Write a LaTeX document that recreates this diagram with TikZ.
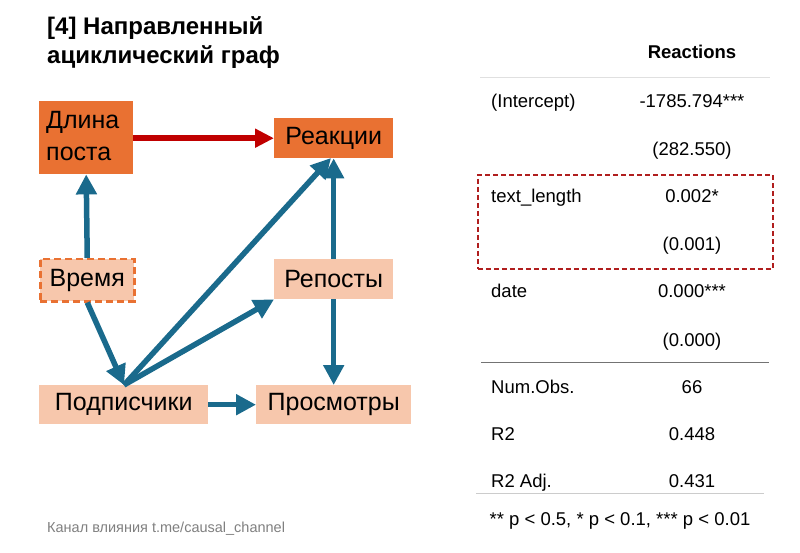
\documentclass[tikz,border=0pt]{standalone}
\usepackage{fontspec}
\setmainfont{Liberation Sans}
\usetikzlibrary{arrows.meta}
\definecolor{dorange}{HTML}{E97132}
\definecolor{lpeach}{HTML}{F7C7AC}
\definecolor{ablue}{HTML}{1A6A8C}
\definecolor{ared}{HTML}{C00000}
\definecolor{dred}{HTML}{B01E1E}
\begin{document}
\begin{tikzpicture}[x=1pt,y=-1pt,
  box/.style={inner sep=0pt,font=\fontsize{25}{30}\selectfont,text=black},
  darkbox/.style={box,fill=dorange},
  lightbox/.style={box,fill=lpeach},
  arr/.style={line width=5.5pt,draw=ablue,-{Triangle[length=20pt,width=20pt]}},
  redarr/.style={line width=5.5pt,draw=ared,-{Triangle[length=19pt,width=18pt]}},
  tab/.style={font=\fontsize{18.5}{22}\selectfont,inner sep=0pt},
  tl/.style={tab,anchor=base west},
  tc/.style={tab,anchor=base},
  ]
\useasboundingbox (0,0) rectangle (800,553);
\fill[white] (0,0) rectangle (800,553);
% title
\node[anchor=base west,inner sep=0pt,font=\bfseries\fontsize{24}{29}\selectfont] (title) at (47,35) {[4] Направленный};
\node[anchor=base west,inner sep=0pt,font=\bfseries\fontsize{24}{29}\selectfont] (title2) at (47,64) {ациклический граф};
% boxes
\node[darkbox,minimum width=94pt,minimum height=73pt,anchor=north west] (len) at (39,101) {};
\node[box,anchor=base west] (lentxt1) at (46,129) {Длина};
\node[box,anchor=base west] (lentxt2) at (46,161) {поста};
\node[darkbox,minimum width=119pt,minimum height=40pt,anchor=north west] (reac) at (274,118) {Реакции};
\node[lightbox,minimum width=94pt,minimum height=42pt,anchor=north west,draw=dorange,line width=2.5pt,dash pattern=on 7pt off 4pt] (time) at (39,258) {Время};
\node[lightbox,minimum width=119pt,minimum height=40pt,anchor=north west] (rep) at (274,259) {Репосты};
\node[lightbox,minimum width=169pt,minimum height=39pt,anchor=north west] (sub) at (39,385) {Подписчики};
\node[lightbox,minimum width=155pt,minimum height=39pt,anchor=north west] (view) at (256,385) {Просмотры};
\coordinate (subtop) at (124,385);
\coordinate (reactip) at (331,158);
% arrows
\draw[arr] (time.north) -- (len.south);
\draw[redarr] (len.east|-reac.west) -- (reac.west);
\draw[arr] (time.south) -- (subtop);
\draw[arr] (subtop) -- (reactip);
\draw[arr] (subtop) -- (rep.west|-rep.south);
\draw[arr] (rep.north) -- (reac.south);
\draw[arr] (rep.south) -- (view.north-|rep.south);
\draw[arr] (sub.east) -- (view.west);
% footer
\node[anchor=base west,inner sep=0pt,font=\fontsize{14.5}{17}\selectfont,text=black!50] (foot) at (47,532) {Канал влияния t.me/causal\_channel};
% table
\node[tc,font=\bfseries\fontsize{18.5}{22}\selectfont] (hdr) at (692,59) {Reactions};
\coordinate (l1a) at (480,77); \coordinate (l1b) at (770,77);
\draw[black!12,line width=0.8pt] (l1a) -- (l1b);
\node[tl] (c1) at (491,108) {(Intercept)};
\node[tc] (v1) at (692,108) {-1785.794***};
\node[tc] (s1) at (692,156) {(282.550)};
\node[draw=dred,line width=1.6pt,dash pattern=on 5pt off 3pt,minimum width=295pt,minimum height=94pt,anchor=north west,inner sep=0pt] (hl) at (477,174) {};
\node[tl] (c2) at (491,203) {text\_length};
\node[tc] (v2) at (692,203) {0.002*};
\node[tc] (s2) at (692,251) {(0.001)};
\node[tl] (c3) at (491,298) {date};
\node[tc] (v3) at (692,298) {0.000***};
\node[tc] (s3) at (692,346) {(0.000)};
\coordinate (l2a) at (481,362); \coordinate (l2b) at (769,362);
\draw[black!55,line width=0.8pt] (l2a) -- (l2b);
\node[tl] (c4) at (491,393) {Num.Obs.};
\node[tc] (v4) at (692,393) {66};
\node[tl] (c5) at (491,440) {R2};
\node[tc] (v5) at (692,440) {0.448};
\node[tl] (c6) at (491,487) {R2 Adj.};
\node[tc] (v6) at (692,487) {0.431};
\coordinate (l3a) at (476,493); \coordinate (l3b) at (764,493);
\draw[black!20,line width=0.8pt] (l3a) -- (l3b);
\node[tc] (fn) at (620,525) {** p < 0.5, * p < 0.1, *** p < 0.01};
\end{tikzpicture}
\end{document}
